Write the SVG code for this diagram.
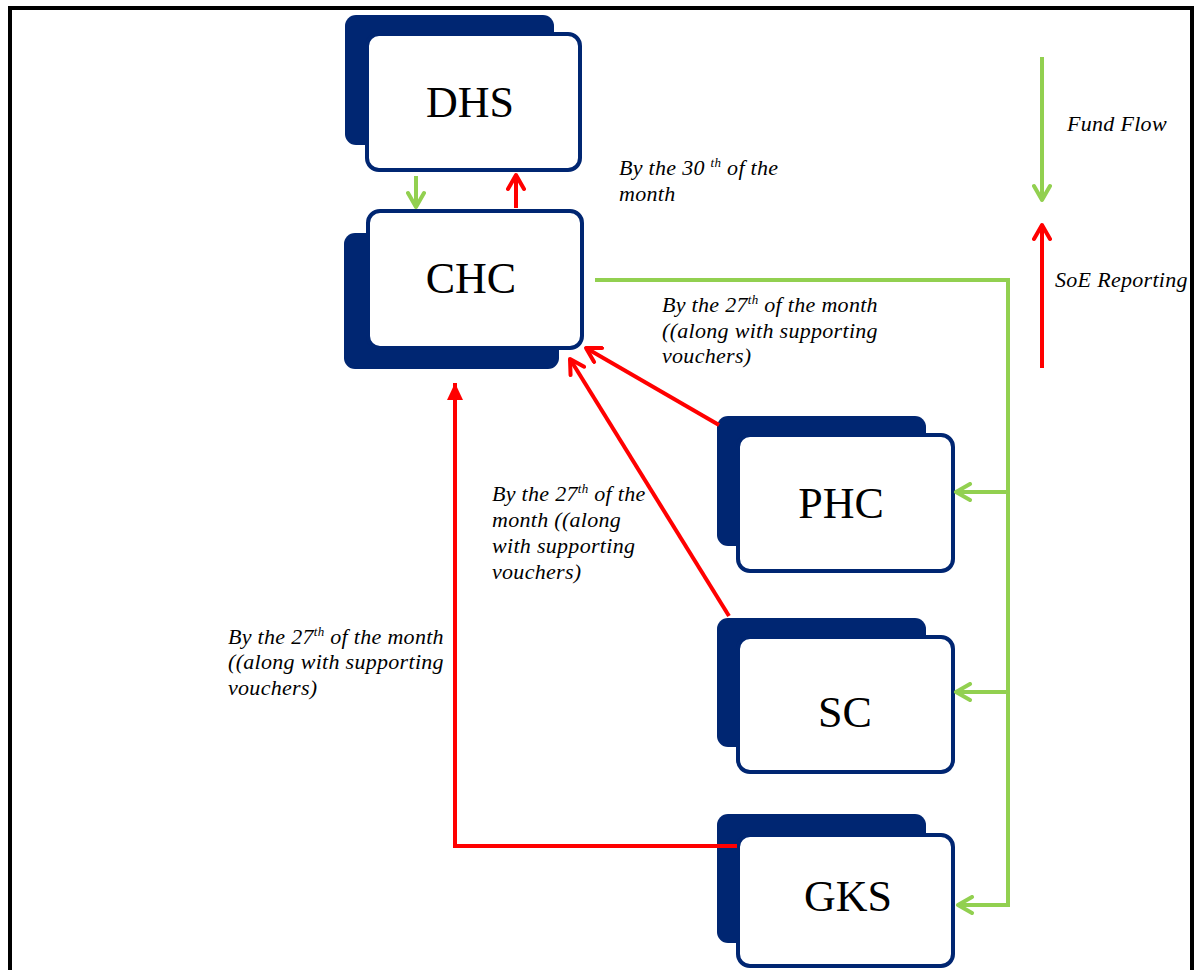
<svg xmlns="http://www.w3.org/2000/svg" width="1194" height="970" viewBox="0 0 1194 970">
<style>
.shadow{fill:#002672;}
.box{fill:#ffffff;stroke:#002672;stroke-width:4;}
.lbl{font-family:"Liberation Serif","Times New Roman",serif;font-size:44px;fill:#000;text-anchor:middle;}
.note{font-family:"Liberation Serif","Times New Roman",serif;font-size:22px;font-style:italic;fill:#000;letter-spacing:0.3px;}
.sup{font-size:13px;}
.g{fill:none;stroke:#92D050;stroke-width:4;}
.r{fill:none;stroke:#FF0000;stroke-width:4;}
</style>
<defs>
<marker id="ga" viewBox="0 0 20 20" refX="17" refY="10" markerWidth="20" markerHeight="20" markerUnits="userSpaceOnUse" orient="auto">
<path d="M3,2 L17,10 L3,18" fill="none" stroke="#92D050" stroke-width="4" stroke-linecap="round" stroke-linejoin="round"/>
</marker>
<marker id="ra" viewBox="0 0 20 20" refX="17" refY="10" markerWidth="20" markerHeight="20" markerUnits="userSpaceOnUse" orient="auto">
<path d="M3,2 L17,10 L3,18" fill="none" stroke="#FF0000" stroke-width="4" stroke-linecap="round" stroke-linejoin="round"/>
</marker>
<marker id="rf" viewBox="0 0 18 18" refX="17" refY="9" markerWidth="18" markerHeight="18" markerUnits="userSpaceOnUse" orient="auto">
<path d="M0,1 L17,9 L0,17 Z" fill="#FF0000"/>
</marker>
</defs>
<rect width="1194" height="970" fill="#ffffff"/>
<path d="M10,970 L10,8 L1192,8 L1192,970" fill="none" stroke="#000" stroke-width="4"/>

<g id="DHS">
<rect class="shadow" x="345" y="15" width="209" height="130" rx="11"/>
<rect class="box" x="367" y="34" width="213" height="136" rx="12"/>
<text class="lbl" x="470" y="117">DHS</text>
</g>
<g id="CHC">
<rect class="shadow" x="344" y="233" width="215" height="136" rx="11"/>
<rect class="box" x="368" y="211" width="214" height="137" rx="12"/>
<text class="lbl" x="471" y="293">CHC</text>
</g>
<g id="PHC">
<rect class="shadow" x="717" y="416" width="209" height="130" rx="11"/>
<rect class="box" x="738" y="435" width="215" height="136" rx="12"/>
<text class="lbl" x="841" y="518">PHC</text>
</g>
<g id="SC">
<rect class="shadow" x="717" y="618" width="209" height="129" rx="11"/>
<rect class="box" x="738" y="637" width="215" height="135" rx="12"/>
<text class="lbl" x="845" y="727">SC</text>
</g>
<g id="GKS">
<rect class="shadow" x="717" y="814" width="209" height="129" rx="11"/>
<rect class="box" x="738" y="835" width="215" height="131" rx="12"/>
<text class="lbl" x="848" y="911">GKS</text>
</g>

<g id="connectors">
<line class="g" x1="416" y1="176" x2="416" y2="207" marker-end="url(#ga)"/>
<line class="r" x1="516" y1="208" x2="516" y2="175" marker-end="url(#ra)"/>
<polyline class="g" points="595,280 1008,280 1008,905 958,905" marker-end="url(#ga)"/>
<line class="g" x1="1008" y1="492" x2="956" y2="492" marker-end="url(#ga)"/>
<line class="g" x1="1008" y1="692" x2="956" y2="692" marker-end="url(#ga)"/>
<line class="r" x1="719" y1="425" x2="586" y2="348" marker-end="url(#ra)"/>
<line class="r" x1="729" y1="616" x2="570" y2="359" marker-end="url(#ra)"/>
<polyline class="r" points="737,846 455,846 455,383" marker-end="url(#rf)"/>
<line class="g" x1="1042" y1="57" x2="1042" y2="200" marker-end="url(#ga)"/>
<line class="r" x1="1042" y1="368" x2="1042" y2="225" marker-end="url(#ra)"/>
</g>

<g id="labels">
<text class="note" x="619" y="175">By the 30 <tspan class="sup" dy="-8">th</tspan><tspan dy="8"> of the</tspan></text>
<text class="note" x="619" y="201">month</text>

<text class="note" x="662" y="312">By the 27<tspan class="sup" dy="-8">th</tspan><tspan dy="8"> of the month</tspan></text>
<text class="note" x="662" y="338">((along with supporting</text>
<text class="note" x="662" y="363">vouchers)</text>

<text class="note" x="492" y="501">By the 27<tspan class="sup" dy="-8">th</tspan><tspan dy="8"> of the</tspan></text>
<text class="note" x="492" y="527">month ((along</text>
<text class="note" x="492" y="553">with supporting</text>
<text class="note" x="492" y="579">vouchers)</text>

<text class="note" x="228" y="644">By the 27<tspan class="sup" dy="-8">th</tspan><tspan dy="8"> of the month</tspan></text>
<text class="note" x="228" y="669">((along with supporting</text>
<text class="note" x="228" y="695">vouchers)</text>

<text class="note" x="1067" y="131">Fund Flow</text>
<text class="note" x="1055" y="287">SoE Reporting</text>
</g>
</svg>
